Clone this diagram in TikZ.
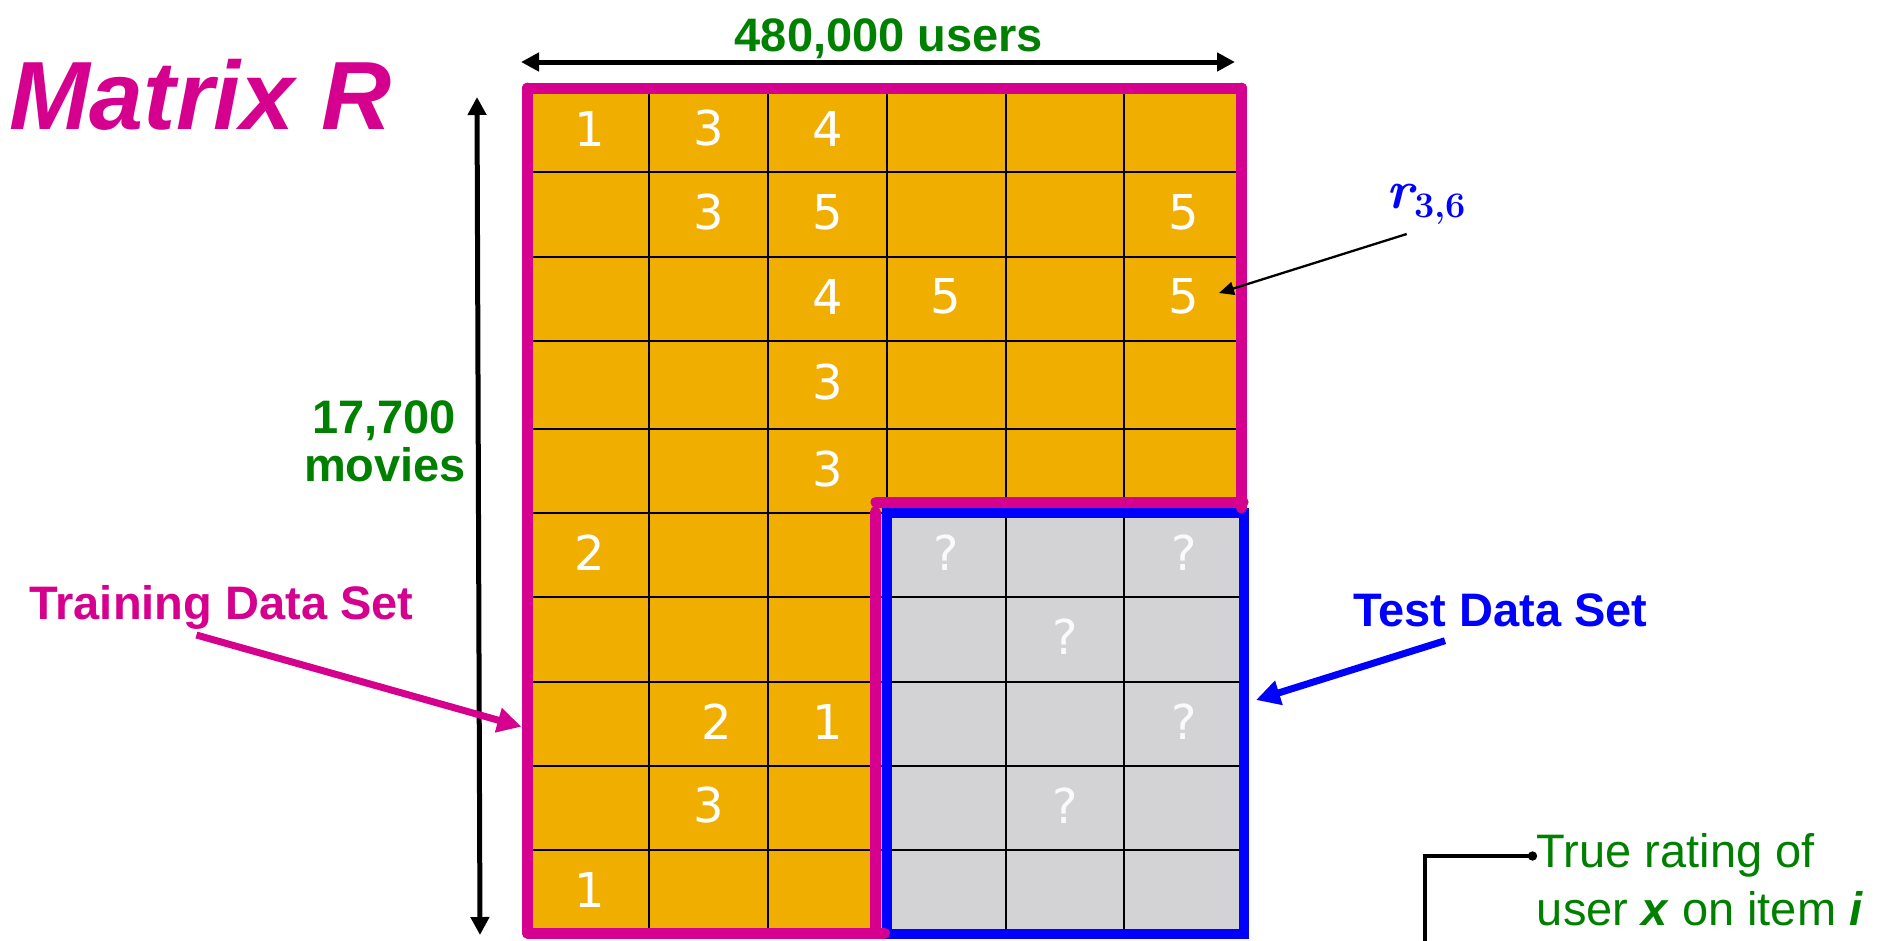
\documentclass[tikz,border=0pt]{standalone}
\usepackage{fontspec}
\newfontfamily\arial{Liberation Sans}
\newfontfamily\digitfont{DejaVu Sans}
\usetikzlibrary{arrows.meta}
\definecolor{mag}{RGB}{214,0,143}
\definecolor{orng}{RGB}{240,174,0}
\definecolor{gry}{RGB}{211,211,213}
\definecolor{grn}{RGB}{0,128,0}
\definecolor{blu}{RGB}{0,0,255}
\tikzset{
  gline/.style={black, line width=2pt},
  magline/.style={mag, line width=11pt, line cap=round},
  testline/.style={blu, line width=10pt},
  num/.style={font=\digitfont\fontsize{48}{50}\selectfont, text=white, inner sep=0pt},
  qm/.style={num, text=white!96!gray},
  lbl/.style={font=\arial\bfseries\fontsize{47}{50}\selectfont, inner sep=0pt, anchor=base},
  dimarrow/.style={line width=5pt, {Triangle[length=18pt,width=18pt]}-{Triangle[length=18pt,width=18pt]}},
  bigarrow/.style={line width=7pt, -{Triangle[length=24pt,width=24pt]}},
}
\begin{document}
\begin{tikzpicture}[x=1pt,y=-1pt]
\useasboundingbox (0,0) rectangle (1881,940);
\clip (0,0) rectangle (1881,940);

% title
\node[font=\arial\bfseries\itshape\fontsize{97}{100}\selectfont, text=mag, anchor=base, inner sep=0pt] (title) at (200.5,129.3) {Matrix R};

% matrix background
\fill[orng] (530.4,89) rectangle (1243.2,933);
\fill[gry] (886.8,513) rectangle (1243.2,933);

% grid
\foreach \y in {172,256.5,341,429,513,597,681.5,765.5,850}
  \draw[gline] (530.4,\y) -- (1243.2,\y);
\foreach \x in {649.2,768,886.8,1005.6,1124.4}
  \draw[gline] (\x,89) -- (\x,933);

% numbers
\foreach \x/\y/\t/\n in {589.8/128.5/1/a,708.6/128.5/3/b,827.4/128.5/4/c,
  708.6/212.5/3/d,827.4/212.5/5/e,1183.8/212.5/5/f,
  827.4/296.5/4/g,946.2/296.5/5/h,1183.8/296.5/5/r36cell,
  827.4/382/3/i,827.4/469/3/j,589.8/553/2/k,
  716.6/721.5/2/l,827.4/721.5/1/m,708.6/805.5/3/n,589.8/889.5/1/o}
  \node[num] (num-\n) at (\x,\y) {\t};
\foreach \x/\y/\n in {946.2/553/a,1183.8/553/b,1065/637/c,1183.8/721.5/d,1065/805.5/e}
  \node[qm] (q-\n) at (\x,\y) {?};

% test border
\draw[testline] (886.5,513) rectangle (1244,934);

% training border
\draw[magline] (527.5,88) -- (1241.5,88);
\draw[magline] (527.5,88) -- (527.5,933);
\draw[magline] (1241.5,88) -- (1241.5,508);
\draw[magline] (876,502) -- (1243,502);
\draw[magline] (875,512) -- (875,933);
\draw[magline] (527.5,933) -- (884.5,933);

% dimension arrows and labels
\coordinate (hL) at (521,62);
\coordinate (hR) at (1235,62);
\draw[dimarrow] (hL) -- (hR);
\node[lbl, text=grn] (users) at (889,51.7) {480,000 users};

\coordinate (vT) at (477,97);
\coordinate (vB) at (480,935);
\draw[dimarrow] (vT) -- (vB);
\node[lbl, text=grn] (mov1) at (384,433.3) {17,700};
\node[lbl, text=grn] (mov2) at (385,481.7) {movies};

% r_{3,6}
\node[text=blu, inner sep=0pt, anchor=base west] (r36) at (1386,208.3)
  {\fontsize{54}{60}\selectfont\bfseries\itshape r\kern1pt\raisebox{-9pt}{\fontsize{36}{40}\selectfont\upshape 3,6}};
\coordinate (r36s) at (1406.7,234);
\coordinate (r36t) at (1219,293);
\draw[line width=2.3pt, -{Triangle[length=15pt,width=13pt]}] (r36s) -- (r36t);

% training label
\node[lbl, text=mag] (train) at (221.4,619.3) {Training Data Set};
\coordinate (trs) at (196.4,635);
\coordinate (trt) at (521.4,726.7);
\draw[bigarrow, mag] (trs) -- (trt);

% test label
\node[lbl, text=blu] (test) at (1500.5,626.7) {Test Data Set};
\coordinate (tes) at (1445,640.7);
\coordinate (tet) at (1256,700);
\draw[bigarrow, blu] (tes) -- (tet);

% true rating
\node[font=\arial\fontsize{47}{50}\selectfont, text=grn, anchor=base west, inner sep=0pt] (true1) at (1536.7,867.3) {True rating of};
\node[font=\arial\fontsize{47}{50}\selectfont, text=grn, anchor=base west, inner sep=0pt] (true2) at (1536.7,925) {user \textbf{\textit{x}} on item \textbf{\textit{i}}};
\coordinate (elb) at (1425,950);
\coordinate (elc) at (1537,856);
\draw[line width=4.7pt, -{Circle[length=9pt]}] (elb) |- (elc);
\end{tikzpicture}
\end{document}
